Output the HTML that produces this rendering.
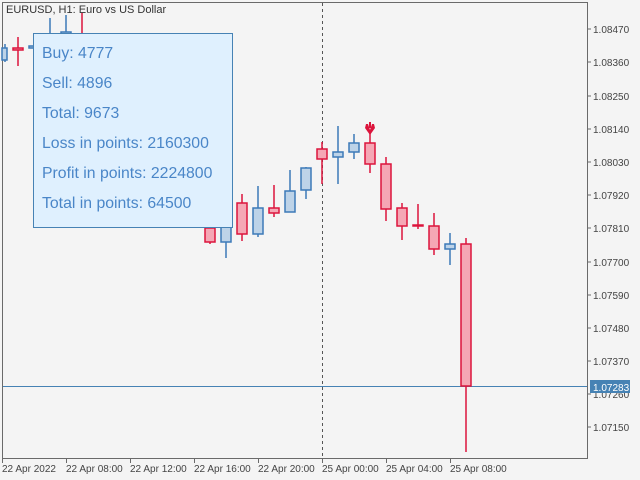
<!DOCTYPE html>
<html><head><meta charset="utf-8"><style>
body{margin:0;background:#f4f4f4;width:640px;height:480px;overflow:hidden;position:relative;font-family:"Liberation Sans",sans-serif}
svg{position:absolute;left:0;top:0}
.panel{position:absolute;left:33px;top:33px;width:198px;height:193px;background:#dff0fe;border:1px solid #4682b4}
.panel div{position:absolute;left:8px;font-size:15.8px;color:#4a86c8}
</style></head><body>
<svg width="640" height="480" font-family="Liberation Sans, sans-serif" font-size="10" fill="#444">
<rect x="2.5" y="2.5" width="585" height="456" fill="#f4f4f4" stroke="#6a6a6a"/>
<line x1="322.5" y1="3" x2="322.5" y2="458" stroke="#555" stroke-dasharray="3,3"/>
<line x1="3" y1="386.5" x2="587" y2="386.5" stroke="#4682b4"/>
<g stroke-width="1.5">
<g stroke="#3d7ab8" fill="#bdd3e8">
<line x1="5" y1="44" x2="5" y2="62"/><rect x="2" y="48" width="5" height="12"/>
<rect x="29" y="46" width="6" height="2"/>
<line x1="50" y1="18" x2="50" y2="34"/><line x1="66" y1="15" x2="66" y2="34"/><rect x="61" y="32" width="10" height="2"/>
<line x1="226" y1="242" x2="226" y2="258"/><rect x="221" y="208" width="10" height="34"/>
<line x1="258" y1="186" x2="258" y2="237"/><rect x="253" y="208" width="10" height="26"/>
<line x1="290" y1="170" x2="290" y2="212"/><rect x="285" y="191" width="10" height="21"/>
<line x1="306" y1="167" x2="306" y2="199"/><rect x="301" y="168" width="10" height="22"/>
<line x1="338" y1="126" x2="338" y2="184"/><rect x="333" y="152" width="10" height="5"/>
<line x1="354" y1="134" x2="354" y2="159"/><rect x="349" y="143" width="10" height="9"/>
<line x1="450" y1="233" x2="450" y2="265"/><rect x="445" y="244" width="10" height="5"/>
</g>
<g stroke="#dc143c" fill="#f5a7b5">
<line x1="18" y1="37" x2="18" y2="66"/><rect x="13" y="48" width="10" height="2"/>
<line x1="82" y1="13" x2="82" y2="34"/>
<line x1="210" y1="228" x2="210" y2="244"/><rect x="205" y="228" width="10" height="14"/>
<line x1="242" y1="194" x2="242" y2="241"/><rect x="237" y="203" width="10" height="31"/>
<line x1="274" y1="185" x2="274" y2="217"/><rect x="269" y="208" width="10" height="5"/>
<line x1="322" y1="142" x2="322" y2="184"/><rect x="317" y="149" width="10" height="10"/>
<line x1="370" y1="130" x2="370" y2="173"/><rect x="365" y="143" width="10" height="21"/>
<line x1="386" y1="157" x2="386" y2="221"/><rect x="381" y="164" width="10" height="45"/>
<line x1="402" y1="203" x2="402" y2="240"/><rect x="397" y="208" width="10" height="18"/>
<line x1="418" y1="204" x2="418" y2="229"/><rect x="413" y="225" width="10" height="1"/>
<line x1="434" y1="213" x2="434" y2="255"/><rect x="429" y="226" width="10" height="23"/>
<line x1="466" y1="238" x2="466" y2="452"/><rect x="461" y="244" width="10" height="142"/>
</g>
</g>
<path d="M366 124 L368 124 L370 130 L372 124 L374 124 L375 128 L370 135 L365 128Z M369 122h2v6h-2z" fill="#dc143c"/>
<text x="6" y="13" font-size="11" fill="#333">EURUSD, H1:  Euro vs US Dollar</text>
<g stroke="#6a6a6a">
<line x1="587" y1="29" x2="591" y2="29"/><line x1="587" y1="62" x2="591" y2="62"/><line x1="587" y1="96" x2="591" y2="96"/><line x1="587" y1="129" x2="591" y2="129"/><line x1="587" y1="162" x2="591" y2="162"/><line x1="587" y1="195" x2="591" y2="195"/><line x1="587" y1="228" x2="591" y2="228"/><line x1="587" y1="262" x2="591" y2="262"/><line x1="587" y1="295" x2="591" y2="295"/><line x1="587" y1="328" x2="591" y2="328"/><line x1="587" y1="361" x2="591" y2="361"/><line x1="587" y1="394" x2="591" y2="394"/><line x1="587" y1="427" x2="591" y2="427"/>
<line x1="2.5" y1="459" x2="2.5" y2="463"/><line x1="66.5" y1="459" x2="66.5" y2="463"/><line x1="130.5" y1="459" x2="130.5" y2="463"/><line x1="194.5" y1="459" x2="194.5" y2="463"/><line x1="258.5" y1="459" x2="258.5" y2="463"/><line x1="322.5" y1="459" x2="322.5" y2="463"/><line x1="386.5" y1="459" x2="386.5" y2="463"/><line x1="450.5" y1="459" x2="450.5" y2="463"/>
</g>
<g>
<text x="593" y="33">1.08470</text><text x="593" y="66">1.08360</text><text x="593" y="100">1.08250</text><text x="593" y="133">1.08140</text><text x="593" y="166">1.08030</text><text x="593" y="199">1.07920</text><text x="593" y="232">1.07810</text><text x="593" y="266">1.07700</text><text x="593" y="299">1.07590</text><text x="593" y="332">1.07480</text><text x="593" y="365">1.07370</text><text x="593" y="398">1.07260</text><text x="593" y="431">1.07150</text>
</g>
<rect x="590" y="380" width="40" height="13" fill="#4682b4"/>
<text x="593" y="391" fill="#fff">1.07283</text>
<g>
<text x="2" y="472">22 Apr 2022</text><text x="66" y="472">22 Apr 08:00</text><text x="130" y="472">22 Apr 12:00</text><text x="194" y="472">22 Apr 16:00</text><text x="258" y="472">22 Apr 20:00</text><text x="322" y="472">25 Apr 00:00</text><text x="386" y="472">25 Apr 04:00</text><text x="450" y="472">25 Apr 08:00</text>
</g>
</svg>
<div class="panel">
<div style="top:11px">Buy: 4777</div>
<div style="top:41px">Sell: 4896</div>
<div style="top:71px">Total: 9673</div>
<div style="top:101px">Loss in points: 2160300</div>
<div style="top:131px">Profit in points: 2224800</div>
<div style="top:161px">Total in points: 64500</div>
</div>
</body></html>
